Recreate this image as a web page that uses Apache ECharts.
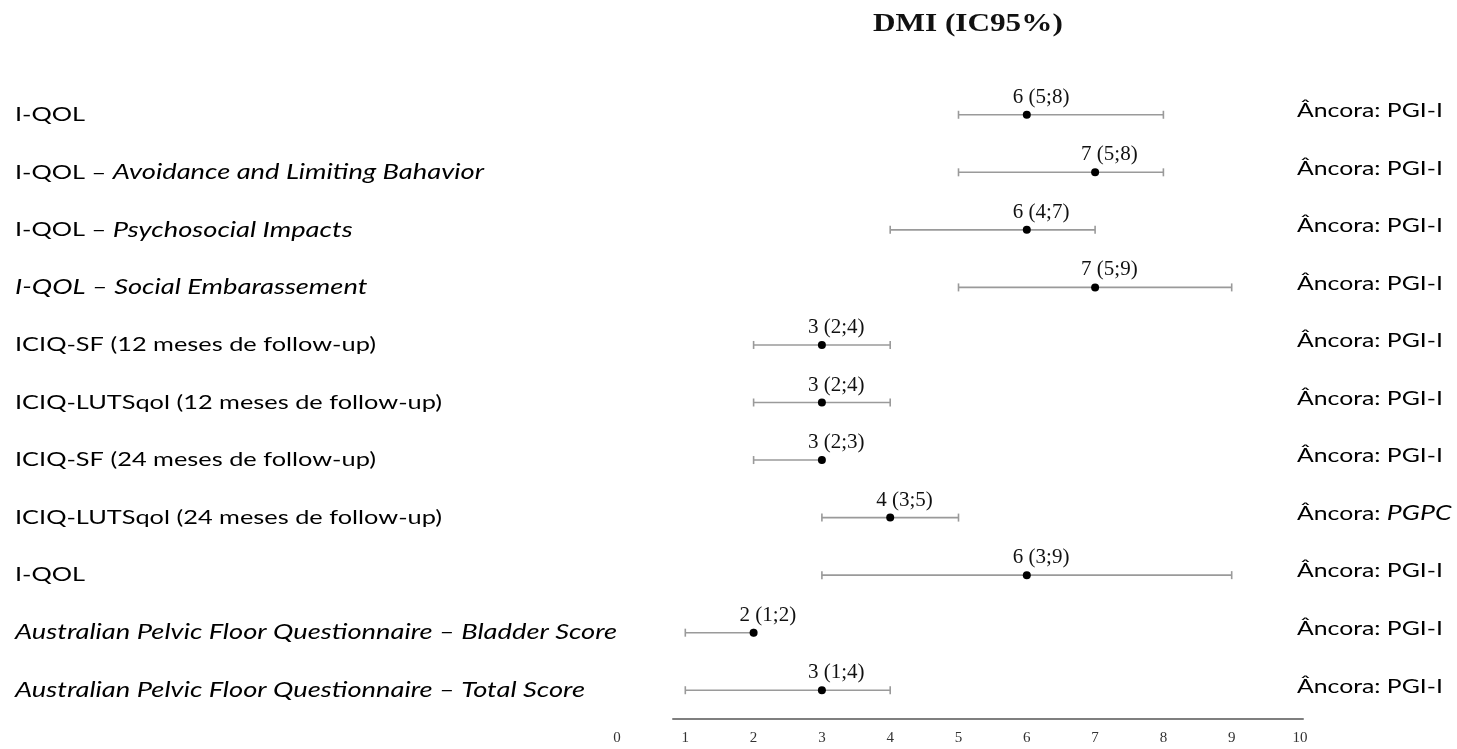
<!DOCTYPE html>
<html>
<head>
<meta charset="utf-8">
<script src="https://cdn.jsdelivr.net/npm/echarts@6/dist/echarts.min.js"></script>
<style>
  html, body { margin: 0; padding: 0; background: #fff; }
  #chart { width: 1457px; height: 749px; }
</style>
</head>
<body>
<div id="chart"></div>
<script>
// Outcome measures (plain prefix + italic part)
const measurePlain = [
  'I-QOL',
  'I-QOL – ',
  'I-QOL – ',
  '',
  'ICIQ-SF (12 meses de follow-up)',
  'ICIQ-LUTSqol (12 meses de follow-up)',
  'ICIQ-SF (24 meses de follow-up)',
  'ICIQ-LUTSqol (24 meses de follow-up)',
  'I-QOL',
  '',
  ''
];
const measureItalic = [
  '',
  'Avoidance and Limiting Bahavior',
  'Psychosocial Impacts',
  'I-QOL – Social Embarassement',
  '',
  '',
  '',
  '',
  '',
  'Australian Pelvic Floor Questionnaire – Bladder Score',
  'Australian Pelvic Floor Questionnaire – Total Score'
];

// DMI point estimates and 95% CI bounds
const dmi   = [6, 7, 6, 7, 3, 3, 3, 4, 6, 2, 3];
const ciLow = [5, 5, 4, 5, 2, 2, 2, 3, 3, 1, 1];
const ciHigh= [8, 8, 7, 9, 4, 4, 3, 5, 9, 2, 4];

// Anchor used for each measure (italic flag per row)
const anchor       = ['PGI-I','PGI-I','PGI-I','PGI-I','PGI-I','PGI-I','PGI-I','PGPC','PGI-I','PGI-I','PGI-I'];
const anchorItalic = [false,false,false,false,false,false,false,true,false,false,false];

// X axis tick labels
const xTicks = ['0','1','2','3','4','5','6','7','8','9','10'];

const rows = measurePlain.map((_, i) => 'r' + i);
const rowData = dmi.map((v, i) => [i, v, ciLow[i], ciHigh[i]]);
const labelData = dmi.map((v, i) => [v, i]);

const chart = echarts.init(document.getElementById('chart'));

const sansFont = 'Lato';
const serifFont = '"Liberation Serif", "DejaVu Serif", serif';
const nameStretch = 1.3;
const anchorStretch = 1.27;

const sansRich = {
  n: { fontFamily: sansFont, fontSize: 19.5, color: '#111' },
  i: { fontFamily: sansFont, fontSize: 21, fontStyle: 'italic', color: '#111' }
};

// CI whisker, caps, point estimate and its value label
function renderRow(params, api) {
  const r = api.value(0);
  const p  = api.coord([api.value(1), r]);
  const lo = api.coord([api.value(2), r]);
  const hi = api.coord([api.value(3), r]);
  const lineStyle = { stroke: '#9a9a9a', lineWidth: 1.6 };
  const cap = 4;
  const label = api.value(1) + ' (' + api.value(2) + ';' + api.value(3) + ')';
  return {
    type: 'group',
    children: [
      { type: 'line', shape: { x1: lo[0], y1: lo[1], x2: hi[0], y2: hi[1] }, style: lineStyle },
      { type: 'line', shape: { x1: lo[0], y1: lo[1] - cap, x2: lo[0], y2: lo[1] + cap }, style: lineStyle },
      { type: 'line', shape: { x1: hi[0], y1: hi[1] - cap, x2: hi[0], y2: hi[1] + cap }, style: lineStyle },
      { type: 'circle', shape: { cx: p[0], cy: p[1], r: 4 }, style: { fill: '#000' } },
      {
        type: 'text',
        x: p[0] - 14, y: p[1] - 7,
        style: {
          text: label,
          fill: '#111',
          font: '21px ' + serifFont,
          align: 'left',
          verticalAlign: 'bottom'
        }
      }
    ]
  };
}

// Measure name on the left and anchor on the right of each row
function renderRowText(params, api) {
  const i = api.value(1);
  const cs = params.coordSys;
  const y = api.coord([0, i])[1];
  let left = '';
  if (measurePlain[i]) left += '{n|' + measurePlain[i] + '}';
  if (measureItalic[i]) left += '{i|' + measureItalic[i] + '}';
  const right = '{n|Âncora: }' + (anchorItalic[i] ? '{i|' + anchor[i] + '}' : '{n|' + anchor[i] + '}');
  return {
    type: 'group',
    children: [
      {
        type: 'text', x: cs.x - 602, y: y, scaleX: nameStretch,
        style: { text: left, rich: sansRich, align: 'left', verticalAlign: 'middle' }
      },
      {
        type: 'text', x: cs.x + cs.width - 3, y: y - 4, scaleX: anchorStretch,
        style: { text: right, rich: sansRich, align: 'left', verticalAlign: 'middle' }
      }
    ]
  };
}

chart.setOption({
  animation: false,
  backgroundColor: '#fff',
  graphic: [
    {
      type: 'text',
      x: 873, y: 11,
      scaleX: 1.2,
      style: {
        text: 'DMI (IC95%)',
        font: 'bold 26px ' + serifFont,
        fill: '#111',
        align: 'left',
        verticalAlign: 'top'
      }
    }
  ],
  grid: [
    { left: 617, right: 157, top: 86, bottom: 30 },
    { left: 673, right: 154, top: 86, bottom: 30 }
  ],
  xAxis: [
    {
      gridIndex: 0, type: 'value', min: 0, max: 10, interval: 1,
      axisLine: { show: false }, axisTick: { show: false }, splitLine: { show: false },
      axisLabel: {
        margin: 12,
        formatter: (v) => xTicks[Math.round(v)],
        fontFamily: serifFont, fontSize: 15, color: '#333'
      }
    },
    {
      gridIndex: 1, type: 'value', min: 0, max: 1,
      axisLine: { show: true, lineStyle: { color: '#7f7f7f', width: 2 } },
      axisTick: { show: false }, axisLabel: { show: false }, splitLine: { show: false }
    }
  ],
  yAxis: [
    {
      gridIndex: 0, type: 'category', data: rows, inverse: true,
      axisLine: { show: false }, axisTick: { show: false }, splitLine: { show: false },
      axisLabel: { show: false }
    },
    {
      gridIndex: 1, type: 'value', show: false
    }
  ],
  series: [
    {
      type: 'custom',
      xAxisIndex: 0,
      yAxisIndex: 0,
      renderItem: renderRow,
      encode: { x: [1, 2, 3], y: 0 },
      data: rowData,
      z: 5
    },
    {
      type: 'custom',
      xAxisIndex: 0,
      yAxisIndex: 0,
      renderItem: renderRowText,
      encode: { x: 0, y: 1 },
      data: labelData,
      clip: false,
      z: 4
    }
  ]
});
</script>
</body>
</html>
